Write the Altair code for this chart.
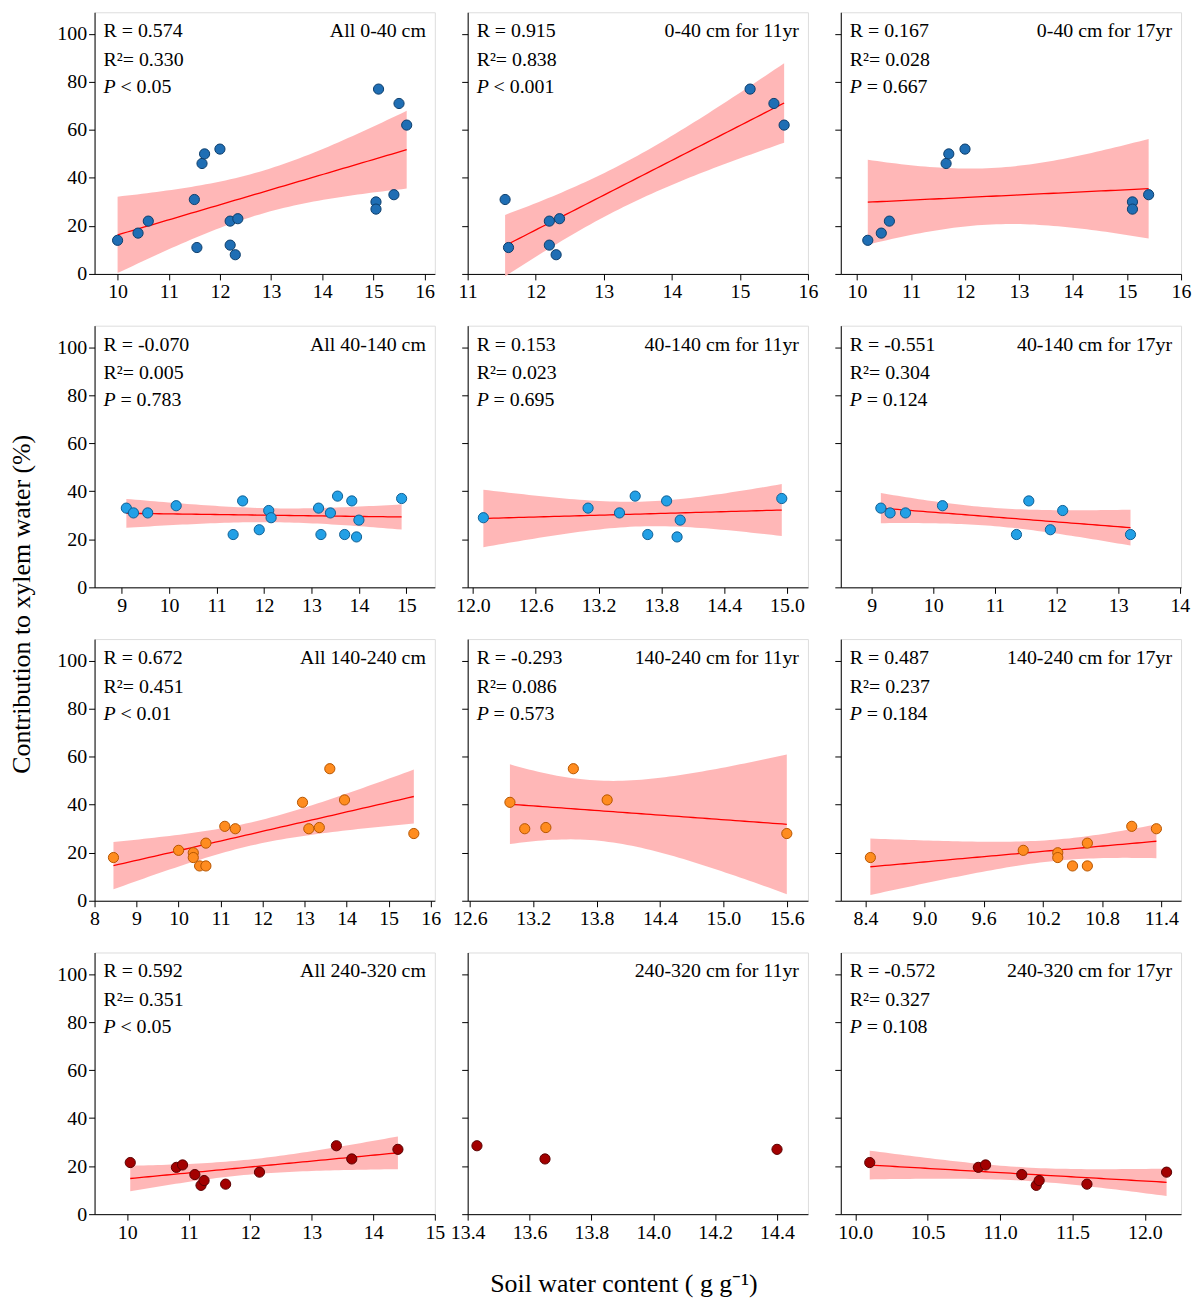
import altair as alt
import numpy as np
import pandas as pd

FONT = "Liberation Serif"
W, H = 342, 263

# ---- data ----
r1_all_x = [10.0, 10.4, 10.6, 11.5, 11.55, 11.65, 11.7, 12.0, 12.2, 12.2, 12.35, 12.3, 15.1, 15.05, 15.05, 15.4, 15.5, 15.65]
r1_all_y = [14, 17, 22, 31, 11, 46, 50, 52, 22, 12, 23, 8, 77, 30, 27, 33, 71, 62]
r1_11_x = [11.55, 11.6, 12.2, 12.2, 12.35, 12.3, 15.15, 15.5, 15.65]
r1_11_y = [31, 11, 22, 12, 23, 8, 77, 71, 62]
r1_17_x = [10.2, 10.45, 10.6, 11.65, 11.7, 12.0, 15.1, 15.1, 15.4]
r1_17_y = [14, 17, 22, 46, 50, 52, 30, 27, 33]

r2_all_x = [9.1, 9.25, 9.55, 10.15, 11.35, 11.55, 11.9, 12.1, 12.15, 13.15, 13.2, 13.4, 13.55, 13.7, 13.85, 13.95, 14.0, 14.9]
r2_all_y = [33, 31, 31, 34, 22, 36, 24, 32, 29, 33, 22, 31, 38, 22, 36, 21, 28, 37]
r2_11_x = [12.1, 13.1, 13.4, 13.55, 13.67, 13.85, 13.95, 13.98, 14.95]
r2_11_y = [29, 33, 31, 38, 22, 36, 21, 28, 37]
r2_17_x = [9.15, 9.3, 9.55, 10.15, 11.35, 11.55, 11.9, 12.1, 13.2]
r2_17_y = [33, 31, 31, 34, 22, 36, 24, 32, 22]

r3_all_x = [8.45, 10.0, 10.35, 10.35, 10.5, 10.65, 10.65, 11.1, 11.35, 12.95, 13.1, 13.35, 13.6, 13.95, 15.6]
r3_all_y = [18, 21, 20, 18, 14.5, 14.5, 24, 31, 30, 41, 30, 30.5, 55, 42, 28]
r3_11_x = [12.98, 13.12, 13.32, 13.58, 13.9, 15.6]
r3_11_y = [41, 30, 30.5, 55, 42, 28]
r3_17_x = [8.45, 10.0, 10.35, 10.35, 10.5, 10.65, 10.65, 11.1, 11.35]
r3_17_y = [18, 21, 20, 18, 14.5, 14.5, 24, 31, 30]

r4_all_x = [10.05, 10.8, 10.9, 11.1, 11.2, 11.25, 11.6, 12.15, 13.4, 13.65, 14.4]
r4_all_y = [21.5, 19.5, 20.5, 16.5, 12, 14, 12.5, 17.5, 28.5, 23, 27]
r4_11_x = [13.43, 13.65, 14.4]
r4_11_y = [28.5, 23, 27]
r4_17_x = [10.1, 10.85, 10.9, 11.15, 11.25, 11.27, 11.6, 12.15]
r4_17_y = [21.5, 19.5, 20.5, 16.5, 12, 14, 12.5, 17.5]

titles = [["All 0-40 cm", "0-40 cm for 11yr", "0-40 cm for 17yr"],
          ["All 40-140 cm", "40-140 cm for 11yr", "40-140 cm for 17yr"],
          ["All 140-240 cm", "140-240 cm for 11yr", "140-240 cm for 17yr"],
          ["All 240-320 cm", "240-320 cm for 11yr", "240-320 cm for 17yr"]]
stats = [[("0.574", "0.330", "< 0.05"), ("0.915", "0.838", "< 0.001"), ("0.167", "0.028", "= 0.667")],
         [("-0.070", "0.005", "= 0.783"), ("0.153", "0.023", "= 0.695"), ("-0.551", "0.304", "= 0.124")],
         [("0.672", "0.451", "< 0.01"), ("-0.293", "0.086", "= 0.573"), ("0.487", "0.237", "= 0.184")],
         [("0.592", "0.351", "< 0.05"), None, ("-0.572", "0.327", "= 0.108")]]
colors = [("#1f6eb4", "#0d3d6b"), ("#22a0e6", "#0f5f93"), ("#ff8c1f", "#b55500"), ("#a30000", "#5a0000")]

data = [[(r1_all_x, r1_all_y), (r1_11_x, r1_11_y), (r1_17_x, r1_17_y)],
        [(r2_all_x, r2_all_y), (r2_11_x, r2_11_y), (r2_17_x, r2_17_y)],
        [(r3_all_x, r3_all_y), (r3_11_x, r3_11_y), (r3_17_x, r3_17_y)],
        [(r4_all_x, r4_all_y), (r4_11_x, r4_11_y), (r4_17_x, r4_17_y)]]
domains = [[[9.55, 16.2], [11, 16], [9.7, 16]],
           [[8.43, 15.6], [11.95, 15.2], [8.5, 14.02]],
           [[8, 16.1], [12.58, 15.8], [8.15, 11.6]],
           [[9.47, 15], [13.4, 14.5], [9.9, 12.25]]]
ticks = [[list(range(10, 17)), list(range(11, 17)), list(range(10, 17))],
         [list(range(9, 16)), [12.0, 12.6, 13.2, 13.8, 14.4, 15.0], list(range(9, 15))],
         [list(range(8, 17)), [12.6, 13.2, 13.8, 14.4, 15.0, 15.6], [8.4, 9.0, 9.6, 10.2, 10.8, 11.4]],
         [list(range(10, 16)), [13.4, 13.6, 13.8, 14.0, 14.2, 14.4], [10.0, 10.5, 11.0, 11.5, 12.0]]]
fmts = [["d", "d", "d"], ["d", ".1f", "d"], ["d", ".1f", ".1f"], ["d", ".1f", ".1f"]]
tcrit = {4: 2.776, 6: 2.447, 7: 2.365, 9: 2.262, 13: 2.160, 16: 2.120}


def fit_band(xs, ys):
    x = np.array(xs, float); y = np.array(ys, float)
    n = len(x)
    b, a = np.polyfit(x, y, 1)
    res = y - (a + b * x)
    s = np.sqrt((res ** 2).sum() / (n - 2))
    gx = np.linspace(x.min(), x.max(), 60)
    se = s * np.sqrt(1 / n + (gx - x.mean()) ** 2 / ((x - x.mean()) ** 2).sum())
    fy = a + b * gx
    t = tcrit[n - 2]
    return pd.DataFrame({"x": gx, "fit": fy, "lo": fy - t * se, "hi": fy + t * se})


def panel(i, j):
    xs, ys = data[i][j]
    fill, stroke = colors[i]
    xsc = alt.Scale(domain=domains[i][j], nice=False, zero=False)
    ysc = alt.Scale(domain=[0, 109], nice=False)
    xax = alt.Axis(values=ticks[i][j], format=fmts[i][j], title=None, grid=False,
                   labelFontSize=20, labelFont=FONT, tickSize=6, labelColor="black",
                   domainColor="black", tickColor="black", labelFlush=False)
    yax = alt.Axis(values=[0, 20, 40, 60, 80, 100], title=None, grid=False,
                   labelFontSize=20, labelFont=FONT, tickSize=6, labels=(j == 0),
                   labelColor="black", domainColor="black", tickColor="black")
    pts = pd.DataFrame({"x": xs, "y": ys})
    layers = []
    st = stats[i][j]
    if st is not None:
        band = fit_band(xs, ys)
        layers.append(alt.Chart(band).mark_area(color="#ffb3b3", opacity=0.95).encode(
            x=alt.X("x:Q", scale=xsc, axis=xax), y=alt.Y("lo:Q", scale=ysc, axis=yax), y2="hi:Q"))
        layers.append(alt.Chart(band).mark_line(color="red", strokeWidth=1.3).encode(
            x=alt.X("x:Q", scale=xsc), y=alt.Y("fit:Q", scale=ysc)))
    layers.append(alt.Chart(pts).mark_circle(size=105, opacity=1, stroke=stroke, strokeWidth=1).encode(
        x=alt.X("x:Q", scale=xsc, axis=xax), y=alt.Y("y:Q", scale=ysc, axis=yax),
        color=alt.value(fill)))
    txt = dict(font=FONT, fontSize=20, baseline="middle", color="black")
    title_df = pd.DataFrame({"t": [titles[i][j]]})
    layers.append(alt.Chart(title_df).mark_text(align="right", **txt).encode(
        text="t:N", x=alt.value(W - 9), y=alt.value(19)))
    if st is not None:
        lab = pd.DataFrame({"t": ["R = " + st[0], "R\u00b2= " + st[1], st[2]],
                            "xp": [9, 9, 26], "yp": [19, 48, 75]})
        layers.append(alt.Chart(lab).mark_text(align="left", **txt).encode(
            text="t:N", x=alt.X("xp:Q", scale=None), y=alt.Y("yp:Q", scale=None)))
        layers.append(alt.Chart(pd.DataFrame({"t": ["P"]})).mark_text(
            align="left", fontStyle="italic", **txt).encode(
            text="t:N", x=alt.value(9), y=alt.value(75)))
    return alt.layer(*layers).properties(width=W, height=H)


rows = [alt.hconcat(*[panel(i, j) for j in range(3)], spacing=33, bounds="flush") for i in range(4)]
grid = alt.vconcat(*rows, spacing=22)

noview = {"stroke": "transparent"}
ytitle = alt.Chart(pd.DataFrame({"t": ["Contribution to xylem water (%)"]})).mark_text(
    angle=270, font=FONT, fontSize=26, color="black").encode(
    text="t:N", x=alt.value(10), y=alt.value(595)).properties(width=20, height=1150, view=noview)
xtitle = alt.Chart(pd.DataFrame({"t": ["Soil water content ( g g\u207b\u00b9)"]})).mark_text(
    font=FONT, fontSize=26, color="black").encode(
    text="t:N", x=alt.value(532), y=alt.value(20)).properties(width=1092, height=30, view=noview)

chart = alt.hconcat(ytitle, alt.vconcat(grid, xtitle, spacing=20),
                    spacing=20).configure_view(
    stroke="black", strokeWidth=1).configure(padding={"left": 0, "top": 0, "right": 0, "bottom": 0})

chart.save("out.html", embed_options={"renderer": "svg", "actions": False})
